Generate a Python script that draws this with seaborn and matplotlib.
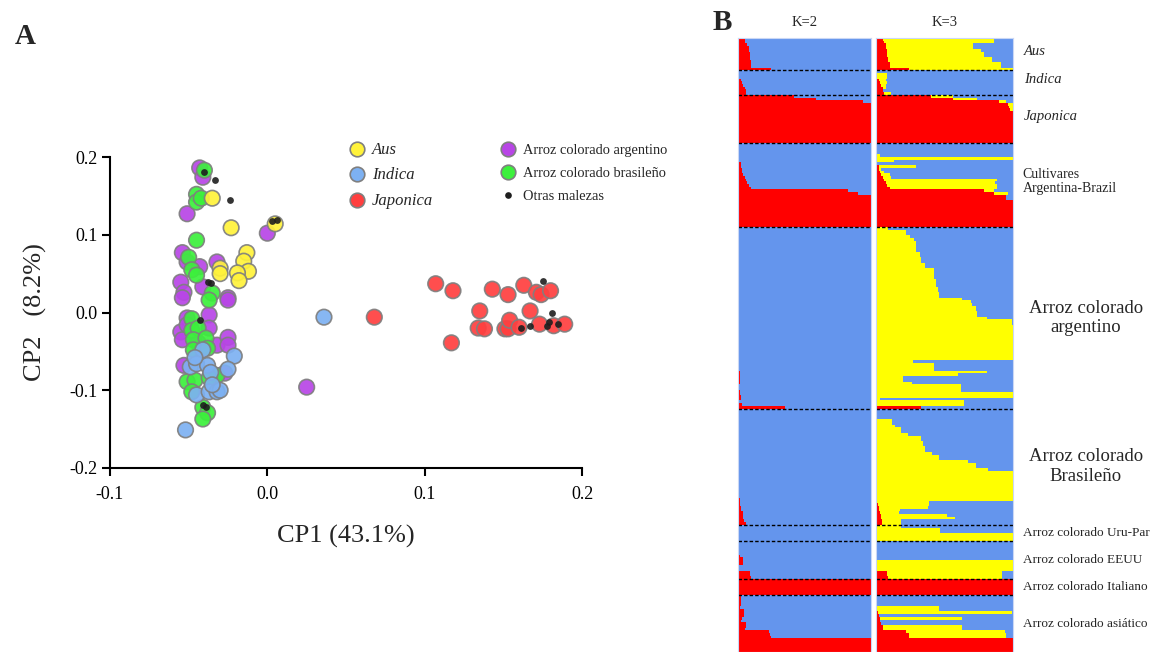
import numpy as np
import pandas as pd
import matplotlib
matplotlib.use("Agg")
import matplotlib.pyplot as plt
import matplotlib.transforms as mtransforms
from matplotlib.lines import Line2D
from matplotlib.ticker import FormatStrFormatter
import seaborn as sns


# ---------------- Panel A: PCA scores ----------------
aus_x = [-0.035, -0.023, 0.005, -0.030, -0.030, -0.013, -0.015, -0.012, -0.019, -0.018]
aus_y = [0.147, 0.109, 0.114, 0.057, 0.050, 0.077, 0.066, 0.053, 0.051, 0.041]

indica_x = [-0.041, -0.021, -0.049, -0.045, -0.038, -0.036, -0.025, -0.045, -0.037,
            -0.032, -0.030, -0.052, 0.036, -0.046, -0.035]
indica_y = [-0.048, -0.056, -0.070, -0.066, -0.068, -0.077, -0.073, -0.106, -0.102,
            -0.102, -0.100, -0.151, -0.006, -0.058, -0.093]

japonica_x = [0.107, 0.118, 0.143, 0.153, 0.163, 0.171, 0.174, 0.180, 0.135, 0.167, 0.134,
              0.138, 0.151, 0.153, 0.154, 0.160, 0.173, 0.182, 0.189, 0.117, 0.068]
japonica_y = [0.037, 0.028, 0.030, 0.023, 0.035, 0.026, 0.023, 0.028, 0.002, 0.002, -0.020,
              -0.021, -0.021, -0.021, -0.010, -0.019, -0.015, -0.017, -0.015, -0.039, -0.006]

arg_x = [-0.043, -0.041, -0.051, 0.000, -0.054, -0.051, -0.043, -0.032, -0.055, -0.053,
         -0.041, -0.025, -0.054, -0.025, -0.037, -0.051, -0.055, -0.037, -0.054, -0.032,
         -0.025, -0.025, -0.053, -0.027, 0.025, -0.051, -0.044]
arg_y = [0.186, 0.174, 0.127, 0.102, 0.077, 0.065, 0.059, 0.065, 0.039, 0.026,
         0.033, 0.019, 0.019, 0.016, -0.003, -0.007, -0.025, -0.020, -0.035, -0.042,
         -0.032, -0.042, -0.068, -0.078, -0.096, -0.016, -0.039]

bra_x = [-0.040, -0.045, -0.045, -0.042, -0.045, -0.050, -0.048, -0.045, -0.035, -0.037,
         -0.048, -0.048, -0.044, -0.047, -0.039, -0.047, -0.038, -0.032, -0.051, -0.046,
         -0.037, -0.048, -0.041, -0.038, -0.041]
bra_y = [0.183, 0.152, 0.142, 0.147, 0.093, 0.071, 0.055, 0.048, 0.025, 0.016,
         -0.008, -0.023, -0.020, -0.035, -0.033, -0.048, -0.046, -0.081, -0.089, -0.087,
         -0.084, -0.102, -0.122, -0.129, -0.137]

otras_x = [-0.040, -0.033, -0.024, -0.038, -0.036, -0.043, -0.041, -0.039, 0.003, 0.006,
           0.175, 0.161, 0.167, 0.179, 0.181, 0.185, 0.178]
otras_y = [0.181, 0.170, 0.145, 0.039, 0.038, -0.010, -0.119, -0.122, 0.118, 0.119,
           0.041, -0.020, -0.017, -0.012, -0.001, -0.015, -0.017]

# ---------------- Panel B: ancestry proportions ----------------
group_names = ["Aus", "Indica", "Japonica", "Cultivares\nArgentina-Brazil",
               "Arroz colorado\nargentino", "Arroz colorado\nBrasileño",
               "Arroz colorado Uru-Par", "Arroz colorado EEUU",
               "Arroz colorado Italiano", "Arroz colorado asiático"]

# K=2: red share per individual (rest is blue)
k2_aus = [0.05, 0.05, 0.07, 0.08, 0.08, 0.09, 0.09, 0.09, 0.10, 0.10, 0.10, 0.25]
k2_ind = [0.01, 0.01, 0.01, 0.02, 0.03, 0.04, 0.05, 0.06, 0.06]
k2_jap = [0.42, 0.59, 0.94, 1, 1, 1, 1, 1, 1, 1, 1, 1, 1, 1, 1, 1, 1, 1]
k2_cul = [0, 0, 0, 0, 0, 0.01, 0.01, 0.02, 0.02, 0.03, 0.03, 0.04, 0.05, 0.06, 0.07, 0.08,
          0.10, 0.83, 0.90, 1, 1, 1, 1, 1, 1, 1, 1, 1, 1, 1, 1]
k2_arg = [0, 0, 0.01, 0, 0, 0, 0, 0, 0, 0, 0, 0, 0, 0, 0, 0.01, 0, 0, 0, 0,
          0, 0, 0, 0, 0, 0, 0, 0, 0, 0, 0, 0, 0, 0, 0, 0, 0, 0, 0, 0,
          0, 0, 0, 0, 0, 0, 0, 0, 0, 0.01, 0.01, 0.01, 0.01, 0.015, 0.015, 0.015, 0.015, 0.015,
          0.01, 0.01, 0.015, 0.015, 0.02, 0.02, 0.01, 0.03, 0.35]
k2_bra = [0, 0.01, 0.01, 0.01, 0.01, 0, 0, 0, 0, 0, 0, 0, 0, 0, 0, 0, 0, 0, 0, 0,
          0, 0, 0, 0, 0, 0, 0, 0, 0, 0, 0, 0, 0, 0.015, 0.015, 0.015, 0.02, 0.025, 0.035,
          0.035, 0.04, 0.045, 0.06]
k2_uru = [0, 0, 0, 0, 0, 0]
k2_usa = [0, 0, 0, 0, 0, 0.015, 0.04, 0.04, 0.04, 0, 0, 0.09, 0.09, 0.10]
k2_ita = [1, 1, 1, 1, 1, 1]
k2_asi = [0.02, 0.02, 0.02, 0.025, 0.015, 0.045, 0.045, 0.045, 0.03, 0.025, 0.06, 0.06,
          0.05, 0.23, 0.24, 0.25, 1, 1, 1, 1, 1]

# K=3: red and yellow shares per individual (rest is blue)
k3r_aus = [0.05, 0.06, 0.07, 0.07, 0.08, 0.08, 0.08, 0.09, 0.09, 0.10, 0.10, 0.24]
k3y_aus = [0.81, 0.80, 0.64, 0.64, 0.69, 0.71, 0.71, 0.76, 0.76, 0.81, 0.81, 0.76]
k3r_ind = [0, 0, 0.01, 0.02, 0.03, 0.04, 0.05, 0.05, 0.06]
k3y_ind = [0, 0.08, 0.07, 0.05, 0.05, 0.03, 0.02, 0, 0.05]
k3r_jap = [0.40, 0.56, 0.90, 0.96, 0.97, 0.98, 1, 1, 1, 1, 1, 1, 1, 1, 1, 1, 1, 1]
k3y_jap = [0.16, 0.18, 0.05, 0.04, 0.03, 0.02, 0, 0, 0, 0, 0, 0, 0, 0, 0, 0, 0, 0]
k3r_cul = [0, 0, 0, 0, 0, 0, 0, 0.01, 0.02, 0.02, 0.03, 0.04, 0.05, 0.06, 0.07, 0.08,
           0.10, 0.79, 0.86, 0.95, 0.95, 1, 1, 1, 1, 1, 1, 1, 1, 1, 1]
k3y_cul = [0, 0, 0, 0, 0.03, 1.0, 0.13, 0, 0.27, 0.02, 0.03, 0.06, 0.06, 0.82, 0.80, 0.80,
           0.78, 0.07, 0.10, 0, 0, 0, 0, 0, 0, 0, 0, 0, 0, 0, 0]
k3r_arg = [0, 0, 0, 0, 0, 0, 0, 0, 0, 0, 0, 0, 0, 0, 0, 0, 0, 0, 0, 0,
           0, 0, 0, 0, 0, 0, 0, 0, 0, 0, 0, 0, 0, 0, 0, 0, 0, 0, 0, 0,
           0, 0, 0, 0, 0, 0, 0, 0, 0, 0.01, 0.01, 0.01, 0.01, 0.01, 0.01, 0.01, 0.01, 0.01,
           0.01, 0.01, 0.01, 0.01, 0.01, 0.01, 0.01, 0.01, 0.33]
k3y_arg = [0.085, 0.22, 0.22, 0.25, 0.28, 0.29, 0.29, 0.29, 0.29, 0.32, 0.32, 0.33, 0.33,
           0.36, 0.36, 0.42, 0.42, 0.42, 0.42, 0.44, 0.44, 0.44, 0.45, 0.45, 0.46, 0.46,
           0.63, 0.69, 0.70, 0.73, 0.73, 0.74, 0.74, 0.81, 0.99, 0.99,
           1, 1, 1, 1, 1, 1, 1, 1, 1, 1, 1, 1, 1,
           0.26, 0.41, 0.41, 0.41, 0.80, 0.59, 0.19, 0.19, 0.25, 0.61, 0.61, 0.61, 0.99,
           0.99, 0.02, 0.63, 0.63, 0]
k3r_bra = [0, 0, 0, 0, 0, 0, 0, 0, 0, 0, 0, 0, 0, 0, 0, 0, 0, 0, 0, 0,
           0, 0, 0, 0, 0, 0, 0, 0, 0, 0, 0, 0, 0, 0, 0.01, 0.015, 0.02, 0.025, 0.03,
           0.035, 0.04, 0.045, 0.045]
k3y_bra = [0, 0, 0, 0, 0.12, 0.12, 0.14, 0.18, 0.18, 0.23, 0.33, 0.33, 0.34, 0.34, 0.36,
           0.36, 0.41, 0.46, 0.46, 0.67, 0.73, 0.73, 0.82, 1, 1, 1, 1, 1, 1, 1, 1, 1, 1, 1,
           0.38, 0.37, 0.36, 0.15, 0.14, 0.48, 0.54, 0.14, 0.14]
k3r_uru = [0, 0, 0, 0, 0, 0]
k3y_uru = [0.18, 0.47, 0.47, 1, 1, 1]
k3r_usa = [0, 0, 0, 0, 0, 0, 0, 0, 0, 0, 0, 0.08, 0.08, 0.09]
k3y_usa = [0, 0, 0, 0, 0, 0, 0, 1, 1, 1, 1, 0.84, 0.84, 0.83]
k3r_ita = [1, 1, 1, 1, 1, 1]
k3y_ita = [0, 0, 0, 0, 0, 0]
k3r_asi = [0, 0, 0, 0, 0.01, 0.01, 0.015, 0.02, 0.03, 0.03, 0.04, 0.05, 0.05, 0.22, 0.24,
           0.24, 1, 1, 1, 1, 1]
k3y_asi = [0, 0, 0, 0, 0.45, 0.45, 0.98, 0, 0.60, 0, 0, 0.58, 0.58, 0.72, 0.71, 0.71,
           0, 0, 0, 0, 0]

k2_groups = [k2_aus, k2_ind, k2_jap, k2_cul, k2_arg, k2_bra, k2_uru, k2_usa, k2_ita, k2_asi]
k3r_groups = [k3r_aus, k3r_ind, k3r_jap, k3r_cul, k3r_arg, k3r_bra, k3r_uru, k3r_usa,
              k3r_ita, k3r_asi]
k3y_groups = [k3y_aus, k3y_ind, k3y_jap, k3y_cul, k3y_arg, k3y_bra, k3y_uru, k3y_usa,
              k3y_ita, k3y_asi]

RED = "#ff0000"
YELLOW = "#ffff00"
BLUE = "#6495ed"

W, H = 1166, 652
sns.set_style("ticks")
plt.rcParams["font.family"] = ["Liberation Serif", "DejaVu Serif"]
plt.rcParams["axes.unicode_minus"] = False

fig = plt.figure(figsize=(W / 100, H / 100), dpi=100)

# ---------------- Panel A ----------------
palette = {"argentino": "#b845e6", "brasileño": "#3cf03c", "Aus": "#fff23a",
           "Indica": "#7db1f2", "Japonica": "#ff3f3f"}
pca = pd.concat([
    pd.DataFrame({"x": arg_x, "y": arg_y, "grupo": "argentino"}),
    pd.DataFrame({"x": bra_x, "y": bra_y, "grupo": "brasileño"}),
    pd.DataFrame({"x": aus_x, "y": aus_y, "grupo": "Aus"}),
    pd.DataFrame({"x": indica_x, "y": indica_y, "grupo": "Indica"}),
    pd.DataFrame({"x": japonica_x, "y": japonica_y, "grupo": "Japonica"}),
], ignore_index=True)

axA = fig.add_axes([110 / W, 1 - 468 / H, 472 / W, 311 / H])
sns.scatterplot(data=pca, x="x", y="y", hue="grupo", palette=palette, s=125,
                edgecolor="#7f7f7f", linewidth=1.2, alpha=0.92, legend=False, ax=axA)
sns.scatterplot(x=otras_x, y=otras_y, color="#1e1e1e", s=24, linewidth=0, alpha=0.9,
                ax=axA)
axA.set_xlim(-0.1, 0.2)
axA.set_ylim(-0.2, 0.2)
axA.set_xticks([-0.1, 0.0, 0.1, 0.2])
axA.set_yticks([-0.2, -0.1, 0.0, 0.1, 0.2])
axA.xaxis.set_major_formatter(FormatStrFormatter("%.1f"))
axA.yaxis.set_major_formatter(FormatStrFormatter("%.1f"))
axA.tick_params(labelsize=13, width=1.5, length=6, colors="black")
axA.tick_params(axis="x", pad=7)
axA.tick_params(axis="y", pad=3)
sns.despine(ax=axA)
for sp in ["left", "bottom"]:
    axA.spines[sp].set_linewidth(1.5)
    axA.spines[sp].set_color("black")
axA.set_xlabel("CP1 (43.1%)", fontsize=19, labelpad=16)
axA.set_ylabel("CP2   (8.2%)", fontsize=19, labelpad=16)

handles = [
    Line2D([], [], ls="", marker="o", markersize=10.5, markerfacecolor=palette["Aus"],
           markeredgecolor="#7f7f7f", markeredgewidth=1.2),
    Line2D([], [], ls="", marker="o", markersize=10.5, markerfacecolor=palette["Indica"],
           markeredgecolor="#7f7f7f", markeredgewidth=1.2),
    Line2D([], [], ls="", marker="o", markersize=10.5, markerfacecolor=palette["Japonica"],
           markeredgecolor="#7f7f7f", markeredgewidth=1.2),
    Line2D([], [], ls="", marker="o", markersize=10.5, markerfacecolor=palette["argentino"],
           markeredgecolor="#7f7f7f", markeredgewidth=1.2),
    Line2D([], [], ls="", marker="o", markersize=10.5, markerfacecolor=palette["brasileño"],
           markeredgecolor="#7f7f7f", markeredgewidth=1.2),
    Line2D([], [], ls="", marker="o", markersize=4.8, markerfacecolor="#1e1e1e",
           markeredgewidth=0),
]
labels = ["Aus", "Indica", "Japonica", "Arroz colorado argentino",
          "Arroz colorado brasileño", "Otras malezas"]
leg = fig.legend(handles, labels, ncol=2, loc="upper left",
                 bbox_to_anchor=(349 / W, 1 - 142 / H), frameon=False, fontsize=11,
                 handlelength=1.0, handletextpad=0.5, columnspacing=4.4,
                 labelspacing=0.62, borderpad=0, borderaxespad=0)
for t in leg.get_texts()[:3]:
    t.set_fontstyle("italic")
    t.set_fontsize(12)
for t in leg.get_texts()[3:]:
    t.set_fontsize(10.4)

fig.text(25 / W, 1 - 36 / H, "A", fontsize=21, fontweight="bold", ha="center", va="center")

# ---------------- Panel B ----------------
sizes = [len(g) for g in k2_groups]
bounds = np.cumsum(sizes)
n_ind = int(bounds[-1])
rows = np.arange(n_ind)

k2_red = np.concatenate(k2_groups)
k3_red = np.concatenate(k3r_groups)
k3_yel = np.concatenate(k3y_groups)

axK2 = fig.add_axes([738 / W, 0, 133 / W, 614 / H])
axK3 = fig.add_axes([876 / W, 0, 137 / W, 614 / H])

axK2.barh(rows, k2_red, height=1, align="edge", color=RED, linewidth=0)
axK2.barh(rows, 1 - k2_red, left=k2_red, height=1, align="edge", color=BLUE, linewidth=0)

axK3.barh(rows, k3_red, height=1, align="edge", color=RED, linewidth=0)
axK3.barh(rows, k3_yel, left=k3_red, height=1, align="edge", color=YELLOW, linewidth=0)
axK3.barh(rows, 1 - k3_red - k3_yel, left=k3_red + k3_yel, height=1, align="edge",
          color=BLUE, linewidth=0)

for ax, title in [(axK2, "K=2"), (axK3, "K=3")]:
    ax.set_xlim(0, 1)
    ax.set_ylim(n_ind, 0)
    ax.set_xticks([])
    ax.set_yticks([])
    for sp in ax.spines.values():
        sp.set_color("#c9d7f5")
        sp.set_linewidth(0.8)
    for b in bounds[:-1]:
        ax.axhline(b, color="black", linestyle=(0, (2.5, 1.5)), linewidth=1.0)
    ax.text(0.5, 1.0 + 16 / 614, title, transform=ax.transAxes, ha="center",
            va="center", fontsize=10.5)

trans = mtransforms.blended_transform_factory(axK3.transAxes, axK3.transData)
starts = np.concatenate([[0], bounds[:-1]])
centres = (starts + bounds) / 2
for i, (name, yc) in enumerate(zip(group_names, centres)):
    if i < 3:
        axK3.text(1.08, yc - 1.1, name, transform=trans, ha="left", va="center",
                  fontsize=10.5, fontstyle="italic")
    elif i == 3:
        axK3.text(1.07, yc - 1.5, name, transform=trans, ha="left", va="center",
                  fontsize=10, linespacing=1.05)
    elif i in (4, 5):
        axK3.text(1.53, yc, name, transform=trans, ha="center", va="center",
                  fontsize=13.5, linespacing=1.2)
    else:
        axK3.text(1.07, yc, name, transform=trans, ha="left", va="center", fontsize=9.5)

fig.text(722 / W, 1 - 23 / H, "B", fontsize=21, fontweight="bold", ha="center", va="center")

fig.savefig("out.png", dpi=100)
